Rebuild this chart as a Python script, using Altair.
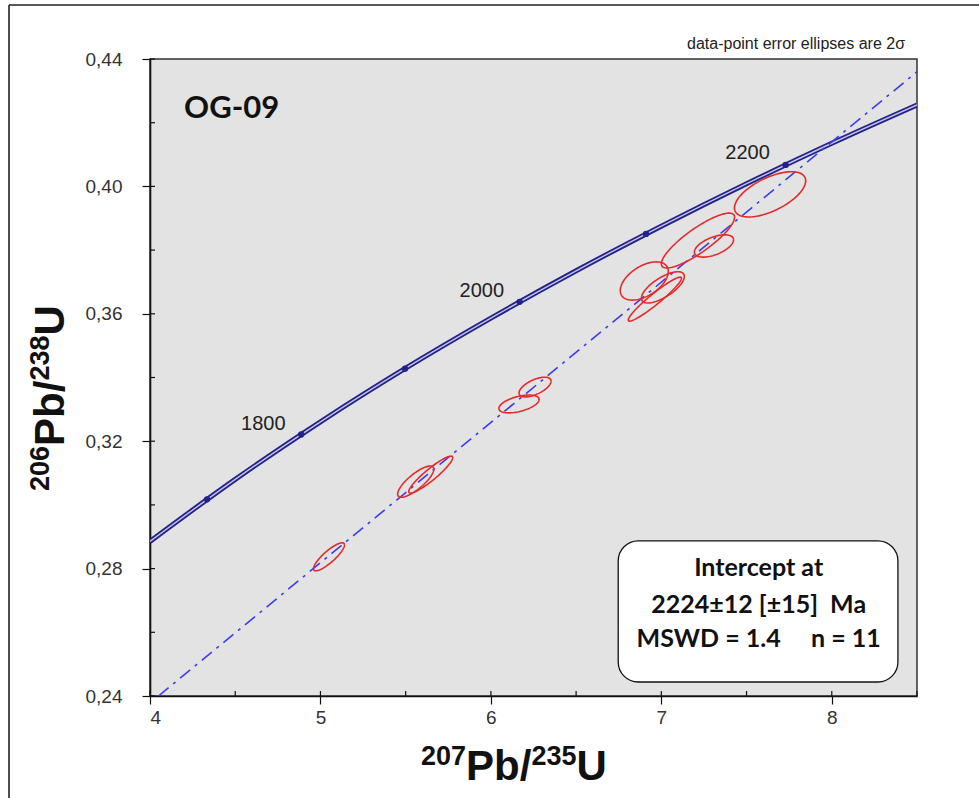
import altair as alt
import numpy as np
import pandas as pd

# ---------------- data ----------------
# concordia curve (207Pb/235U, 206Pb/238U)
conc_x = [4.0, 4.5, 5.0, 5.5, 6.0, 6.5, 7.0, 7.5, 8.0, 8.5]
conc_y = [0.28854, 0.30802, 0.32609, 0.34293, 0.35864, 0.37351, 0.38752, 0.40086, 0.41355, 0.42558]
# age markers on concordia (Ma)
age_ma = [1700, 1800, 1900, 2000, 2100, 2200]
age_x = [4.3346, 4.8869, 5.4962, 6.1685, 6.9104, 7.7292]
age_y = [0.30176, 0.32210, 0.34277, 0.36377, 0.38509, 0.40674]
# age labels
lab_text = ["1800", "2000", "2200"]
lab_x = [4.665, 5.947, 7.506]
lab_y = [0.3254, 0.3671, 0.4105]
# discordia
disc_x = [4.05, 8.5]
disc_y = [0.24, 0.436]
# error ellipses (centre, 2-sigma half widths, correlation)
ell_x = [5.050, 5.559, 5.647, 6.165, 6.259, 7.638, 7.215, 7.309, 6.900, 7.009, 6.962]
ell_y = [0.2837, 0.3073, 0.3095, 0.3317, 0.3370, 0.3975, 0.3830, 0.3813, 0.3703, 0.3683, 0.3646]
ell_sx = [0.091, 0.106, 0.129, 0.118, 0.094, 0.209, 0.215, 0.115, 0.141, 0.126, 0.156]
ell_sy = [0.0044, 0.0049, 0.0058, 0.0028, 0.0031, 0.0071, 0.0086, 0.0035, 0.0060, 0.0049, 0.0069]
ell_rho = [0.85, 0.80, 0.92, 0.50, 0.60, 0.60, 0.85, 0.55, 0.50, 0.70, 0.95]
# ticks
x_major = [4, 5, 6, 7, 8]
x_all = [4, 4.5, 5, 5.5, 6, 6.5, 7, 7.5, 8, 8.5]
y_major = [0.24, 0.28, 0.32, 0.36, 0.40, 0.44]
y_all = [0.24, 0.26, 0.28, 0.30, 0.32, 0.34, 0.36, 0.38, 0.40, 0.42, 0.44]

sample = "OG-09"
note = "data-point error ellipses are 2σ"
box_lines = ["Intercept at", "2224±12 [±15]\u00a0\u00a0Ma", "MSWD = 1.4\u00a0\u00a0\u00a0\u00a0\u00a0n = 11"]

# ---------------- layout ----------------
W, H = 767, 637
XD = [4, 8.5]
YD = [0.24, 0.44]
NAVY = "#22228c"
RED = "#e42a2a"
BLUE = "#3c3cf0"

xs = alt.Scale(domain=XD, nice=False, zero=False)
ys = alt.Scale(domain=YD, nice=False, zero=False)

conc_df = pd.DataFrame({"x": conc_x, "y": conc_y})
age_df = pd.DataFrame({"age": age_ma, "x": age_x, "y": age_y})
lab_df = pd.DataFrame({"t": lab_text, "x": lab_x, "y": lab_y})
disc_df = pd.DataFrame({"x": disc_x, "y": disc_y})

tt = np.linspace(0, 2 * np.pi, 97)
rows = []
for i in range(len(ell_x)):
    r = ell_rho[i]
    for k, t in enumerate(tt):
        rows.append({
            "id": i, "o": k,
            "x": ell_x[i] + ell_sx[i] * np.cos(t),
            "y": ell_y[i] + ell_sy[i] * (r * np.cos(t) + np.sqrt(1 - r * r) * np.sin(t)),
        })
ell_df = pd.DataFrame(rows)

X = alt.X("x:Q", scale=xs, axis=alt.Axis(values=x_major, title=None, format="d", tickSize=8,
                                        labelPadding=4, grid=False))
Y = alt.Y("y:Q", scale=ys, axis=alt.Axis(values=y_major, title=None, tickSize=8, labelPadding=20,
                                        grid=False,
                                        labelExpr="replace(format(datum.value, '.2f'), '.', ',')"))

base_axes = alt.Chart(conc_df).mark_line(strokeWidth=5, color=NAVY, clip=True,
                                          interpolate="monotone").encode(x=X, y=Y)
conc_inner = alt.Chart(conc_df).mark_line(strokeWidth=1.4, color="#c4c4dc", clip=True,
                                          interpolate="monotone").encode(x=alt.X("x:Q", scale=xs),
                                                                         y=alt.Y("y:Q", scale=ys))
markers = alt.Chart(age_df).mark_point(shape="circle", size=40, filled=True, color=NAVY,
                                       opacity=1).encode(x=alt.X("x:Q", scale=xs), y=alt.Y("y:Q", scale=ys))
labels = alt.Chart(lab_df).mark_text(font="Liberation Sans", fontSize=20, color="#222").encode(
    x=alt.X("x:Q", scale=xs), y=alt.Y("y:Q", scale=ys), text="t:N")
disc = alt.Chart(disc_df).mark_line(color=BLUE, strokeWidth=1.6, strokeDash=[13, 6, 3, 6],
                                    clip=True).encode(x=alt.X("x:Q", scale=xs), y=alt.Y("y:Q", scale=ys))
ells = alt.Chart(ell_df).mark_line(color=RED, strokeWidth=1.6, clip=True).encode(
    x=alt.X("x:Q", scale=xs), y=alt.Y("y:Q", scale=ys), detail="id:N", order="o:Q")

# inner tick marks
ytick_df = pd.DataFrame({"y": y_all})
xtick_df = pd.DataFrame({"x": x_all})
yticks = alt.Chart(ytick_df).mark_rule(color="#111", strokeWidth=1.2).encode(
    y=alt.Y("y:Q", scale=ys), x=alt.value(0), x2=alt.value(5))
xticks = alt.Chart(xtick_df).mark_rule(color="#111", strokeWidth=1.2).encode(
    x=alt.X("x:Q", scale=xs), y=alt.value(H), y2=alt.value(H - 5))

# sample name
name = alt.Chart(pd.DataFrame({"t": [sample], "x": [4.2], "y": [0.4243]})).mark_text(
    font="Lato", fontWeight="bold", fontSize=31, align="left", baseline="middle", color="#111").encode(
    x=alt.X("x:Q", scale=xs), y=alt.Y("y:Q", scale=ys), text="t:N")

# note above plot
note_t = alt.Chart(pd.DataFrame({"t": [note]})).mark_text(
    font="Liberation Sans", fontSize=16, align="right", baseline="middle", color="#222").encode(
    x=alt.value(755), y=alt.value(-15), text="t:N")

# intercept box
box = alt.Chart(pd.DataFrame({"x": [6.747], "x2": [8.388], "y": [0.2887], "y2": [0.2444]})).mark_rect(
    fill="white", stroke="#111", strokeWidth=1.3, cornerRadius=20).encode(
    x=alt.X("x:Q", scale=xs), x2="x2:Q", y=alt.Y("y:Q", scale=ys), y2="y2:Q")
box_df = pd.DataFrame({"t": box_lines, "x": [7.571, 7.571, 7.571], "y": [0.2802, 0.2686, 0.2579]})
box_txt = alt.Chart(box_df).mark_text(font="Lato", fontWeight="bold", fontSize=25, color="#111",
                                      baseline="middle").encode(
    x=alt.X("x:Q", scale=xs), y=alt.Y("y:Q", scale=ys), text="t:N")

# axis titles made of pieces (superscripts)
def title_pieces(parts, start, base_big, base_small, rotate):
    big, small = 42, 27
    widths = {"0": .556, "1": .556, "2": .556, "3": .556, "5": .556, "6": .556, "7": .556, "8": .556,
              "P": .667, "b": .611, "/": .278, "U": .722}
    layers = []
    pos = start
    for txt, sup in parts:
        fs = small if sup else big
        w = sum(widths[c] for c in txt) * fs
        if not rotate:
            layers.append(alt.Chart(pd.DataFrame({"t": [txt]})).mark_text(
                font="Liberation Sans", fontWeight="bold", fontSize=fs, align="left",
                baseline="alphabetic", color="#111").encode(
                x=alt.value(pos), y=alt.value(base_small if sup else base_big), text="t:N"))
            pos += w
        else:
            layers.append(alt.Chart(pd.DataFrame({"t": [txt]})).mark_text(
                font="Liberation Sans", fontWeight="bold", fontSize=fs, align="left", angle=270,
                baseline="alphabetic", color="#111").encode(
                y=alt.value(pos), x=alt.value(base_small if sup else base_big), text="t:N"))
            pos -= w
    return layers

xt = title_pieces([("207", True), ("Pb/", False), ("235", True), ("U", False)],
                  start=271, base_big=721, base_small=706, rotate=False)
yt = title_pieces([("206", True), ("Pb/", False), ("238", True), ("U", False)],
                  start=432, base_big=-86, base_small=-101, rotate=True)

# outer frame (left and top)
frame_l = alt.Chart(pd.DataFrame({"a": [0]})).mark_rule(color="#222", strokeWidth=1.6).encode(
    x=alt.value(-141), y=alt.value(-54), y2=alt.value(H + 110))
frame_t = alt.Chart(pd.DataFrame({"a": [0]})).mark_rule(color="#222", strokeWidth=1.6).encode(
    x=alt.value(-141), x2=alt.value(W + 70), y=alt.value(-54))

chart = alt.layer(
    base_axes, conc_inner, markers, disc, ells, labels, name, box, box_txt,
    yticks, xticks, note_t, frame_l, frame_t, *xt, *yt
).properties(
    width=W, height=H,
    padding={"left": 150, "top": 59, "right": 62, "bottom": 102},
    autosize=alt.AutoSizeParams(type="none"),
    background="white",
).configure_view(
    fill="#e3e3e3", stroke="#333", strokeWidth=1.5
).configure_axis(
    domainColor="#111", domainWidth=1.6, tickColor="#111", tickWidth=1.2,
    labelFont="Liberation Sans", labelFontSize=19, labelColor="#333"
)

chart.save("out.html", embed_options={"renderer": "svg", "actions": False})
